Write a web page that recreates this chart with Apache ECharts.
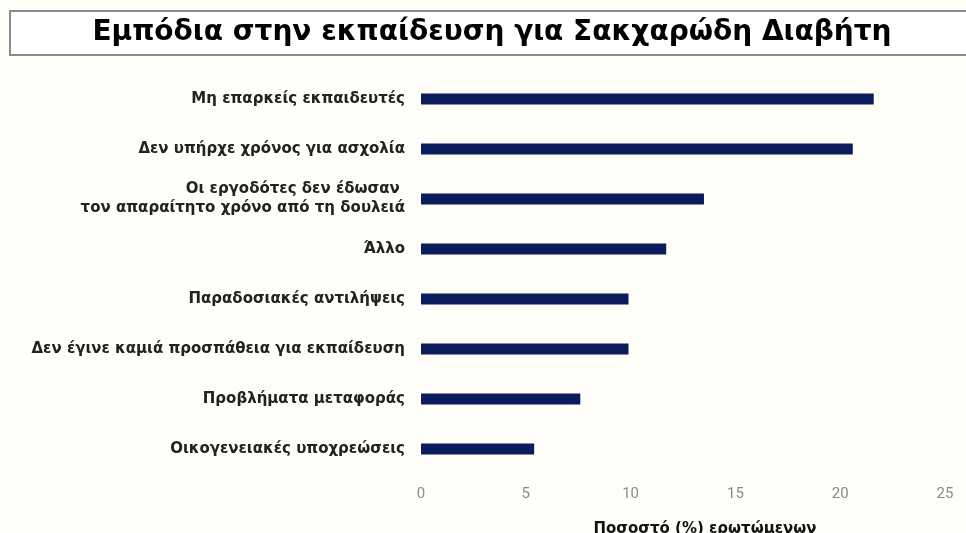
<!DOCTYPE html>
<html>
<head>
<meta charset="utf-8">
<script src="https://cdn.jsdelivr.net/npm/echarts@6/dist/echarts.min.js"></script>
<style>
  html, body { margin: 0; padding: 0; background: #fffef8; }
  #chart { width: 966px; height: 533px; }
</style>
</head>
<body>
<div id="chart"></div>
<script>
// Barriers to diabetes education — share of respondents (%)
const categories = [
  'Μη επαρκείς εκπαιδευτές',
  'Δεν υπήρχε χρόνος για ασχολία',
  'Οι εργοδότες δεν έδωσαν \nτον απαραίτητο χρόνο από τη δουλειά',
  'Άλλο',
  'Παραδοσιακές αντιλήψεις',
  'Δεν έγινε καμιά προσπάθεια για εκπαίδευση',
  'Προβλήματα μεταφοράς',
  'Οικογενειακές υποχρεώσεις'
];
const values = [21.6, 20.6, 13.5, 11.7, 9.9, 9.9, 7.6, 5.4];
const xTicks = [0, 5, 10, 15, 20, 25];
const titleText = 'Εμπόδια στην εκπαίδευση για Σακχαρώδη Διαβήτη';
const axisTitle = 'Ποσοστό (%) ερωτώμενων';

const chart = echarts.init(document.getElementById('chart'));
chart.setOption({
  backgroundColor: '#fffef8',
  animation: false,
  graphic: [
    {
      type: 'rect',
      shape: { x: 10, y: 11, width: 980, height: 44 },
      style: { fill: '#ffffff', stroke: '#8a8a8a', lineWidth: 2 }
    },
    {
      type: 'text',
      x: 492, y: 33,
      style: {
        text: titleText,
        fill: '#000000',
        font: 'bold 28px "DejaVu Sans", sans-serif',
        align: 'center',
        verticalAlign: 'middle'
      }
    }
  ],
  grid: { left: 421, right: 21, top: 74, height: 400, containLabel: false, outerBoundsMode: 'none' },
  xAxis: {
    type: 'value',
    min: xTicks[0],
    max: xTicks[xTicks.length - 1],
    interval: 5,
    axisLine: { show: false },
    axisTick: { show: false },
    splitLine: { show: false },
    axisLabel: {
      color: '#8a8a8a',
      fontSize: 15,
      fontFamily: 'Roboto, sans-serif',
      margin: 13
    },
    name: axisTitle,
    nameLocation: 'middle',
    nameGap: 48,
    nameTextStyle: {
      color: '#111111',
      fontSize: 15,
      fontWeight: 'bold',
      fontFamily: 'DejaVu Sans',
      padding: [0, 0, 0, 44]
    }
  },
  yAxis: {
    type: 'category',
    data: categories,
    inverse: true,
    axisLine: { show: false },
    axisTick: { show: false },
    splitLine: { show: false },
    axisLabel: {
      color: '#222222',
      fontSize: 15,
      fontWeight: 'bold',
      fontFamily: 'DejaVu Sans',
      margin: 16,
      lineHeight: 19,
      align: 'right'
    }
  },
  series: [{
    type: 'bar',
    data: values,
    barWidth: 11,
    itemStyle: { color: '#0b1b5c' }
  }]
});
</script>
</body>
</html>
